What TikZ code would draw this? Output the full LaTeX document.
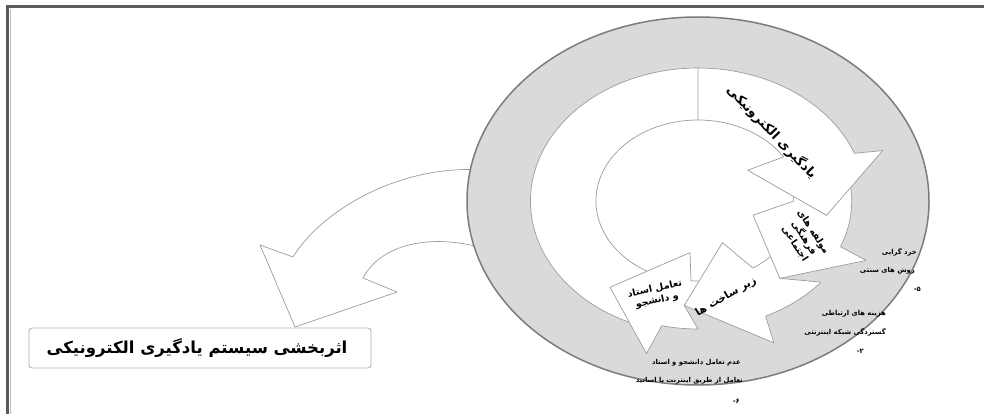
\documentclass[tikz,border=0pt]{standalone}
\usepackage{fontspec}
\newfontfamily\fa[Script=Arabic]{DejaVu Sans}
\TeXXeTstate=1
\definecolor{ringgray}{HTML}{DADADA}
\definecolor{ringline}{HTML}{7C7C7C}
\definecolor{arrline}{HTML}{9C9C9C}
\definecolor{framec}{HTML}{5A5A5A}
\newcommand{\numlab}[1]{\hbox{-}\hbox{#1}}
\begin{document}
\begin{tikzpicture}[x=1pt,y=-1pt,
  ring/.style={fill=ringgray, draw=ringline, line width=1.5pt},
  arr/.style={fill=white, draw=arrline, line width=0.7pt, line join=round},
  edge/.style={draw=arrline, line width=0.7pt},
  small/.style={font=\fa\bfseries\fontsize{6.8}{8}\selectfont, text=black, inner sep=0pt, anchor=east},
  one/.style={text=black, inner sep=0pt},
  big/.style={text=black, inner sep=0pt, align=center},
  ]
\useasboundingbox (0,0) rectangle (984,414);
\fill[white] (0,0) rectangle (984,414);
% frame
\draw[framec, line width=3pt] (7.5,414) -- (7.5,6.5) -- (984,6.5);
\draw[black!25, line width=0.8pt] (10,414) -- (10,9);
% left curved arrow
\draw[arr] (484,170) .. controls (400,164) and (322,210) .. (293,257) -- (260,245) -- (295,327) -- (397,292) -- (363,278) .. controls (380,245) and (430,232) .. (486,249);
% ring
\draw[ring] (698,201) ellipse [x radius=231, y radius=184];
\begin{scope}[shift={(698,201)}, xscale=1.26]
  \fill[white] (0,0) circle [radius=81];
  \fill[white] plot[domain=-90:-246,samples=60] (\x:133) -- plot[domain=-246:-90,samples=60] (\x:81) -- cycle;
  \draw[edge] plot[domain=-90:-246,samples=60] (\x:133);
  \draw[edge] plot[domain=-90:-246,samples=60] (\x:81);
  % arrow 4
  \draw[arr] (90:128) -- plot[domain=90:103,samples=8] (\x:128) -- (105:158) -- (129:111) -- (97:52) -- (94:80) -- plot[domain=94:86,samples=6] (\x:80) -- (96:105) -- cycle;
  % arrow 3
  \draw[arr] (40:126) -- plot[domain=40:65,samples=12] (\x:127) -- (67:154) -- (96:105) -- (65:46) -- (57:80) -- plot[domain=57:36,samples=12] (\x:80) -- (50:101) -- cycle;
  % arrow 2
  \draw[arr] (-9:122) -- plot[domain=-9:22,samples=14] (\x:122) -- (24:146) -- (50:101) -- (18:46) -- (0:76) -- plot[domain=0:-10,samples=6] (\x:76) -- (8:103) -- cycle;
  % arrow 1
  \draw[arr] (-90:81) -- (-90:133) -- plot[domain=-90:-21,samples=30] (\x:133) -- (-19:155) -- (8:103) -- (-38:50) -- (-33:81) -- plot[domain=-33:-90,samples=25] (\x:81) -- cycle;
\end{scope}
% arrow texts
\node[one, rotate=-46, font=\fa\bfseries\fontsize{13}{15}\selectfont] (t1) at (772,132) {\beginR یادگیری الکترونیکی\endR};
\node[big, rotate=-57, font=\fa\bfseries\fontsize{9.5}{11}\selectfont] (t2) at (804,238) {\beginR مولفه های\endR\\\beginR فرهنگی\endR\\\beginR اجتماعی\endR};
\node[one, rotate=30, font=\fa\bfseries\fontsize{10.5}{12}\selectfont] (t3) at (726,297) {\beginR زیر ساخت ها\endR};
\node[big, rotate=12, font=\fa\bfseries\fontsize{9.5}{11.5}\selectfont] (t4) at (656,295) {\beginR تعامل استاد\endR\\\beginR و دانشجو\endR};
% label box
\node[draw=black!30, fill=white, rounded corners=3pt, line width=0.8pt, minimum width=342pt, minimum height=40pt, inner sep=0pt] (lbl) at (200,348) {};
\node[font=\fa\bfseries\fontsize{16.5}{19}\selectfont, inner sep=0pt] (lbltext) at (197,348) {\beginR اثربخشی سیستم یادگیری الکترونیکی\endR};
% small texts
\node[small] (s1) at (917,252) {\beginR خرد گرایی\endR};
\node[small] (s2) at (915,271) {\beginR روش های سنتی\endR};
\node[small] (s3) at (921,289) {\numlab{۵}};
\node[small] (s4) at (886,314) {\beginR هزینه های ارتباطی\endR};
\node[small] (s5) at (886,332) {\beginR گستردگی شبکه اینترنتی\endR};
\node[small] (s6) at (864,351) {\numlab{۲}};
\node[small] (s7) at (741,363) {\beginR عدم تعامل دانشجو و استاد\endR};
\node[small] (s8) at (743,381) {\beginR تعامل از طریق اینترنت با اساتید\endR};
\node[small] (s9) at (740,401) {\numlab{۶}};
\end{tikzpicture}
\end{document}
